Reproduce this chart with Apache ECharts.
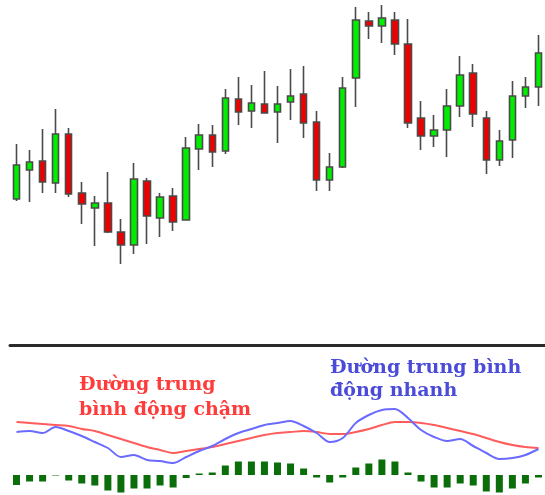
<!DOCTYPE html>
<html>
<head>
<meta charset="utf-8">
<script src="https://cdn.jsdelivr.net/npm/echarts@6/dist/echarts.min.js"></script>
<style>html,body{margin:0;padding:0;background:#fff;}#c{width:545px;height:495px;}</style>
</head>
<body>
<div id="c"></div>
<script>
// Candles: [open, close, low, high]
const candles = [
  [81,115,79,136],[110,118,78,130],[119,98,87,151],[97,146,87,171],[146,86,83,152],
  [87,76,56,98],[72,77,34,84],[77,48,47,108],[48,35,16,61],[35,101,26,117],
  [99,64,36,102],[62,83,43,87],[84,58,49,92],[60,132,60,143],[131,145,110,156],
  [145,128,113,155],[129,182,126,191],[181,168,155,203],[169,177,152,195],[176,167,167,209],
  [168,176,137,194],[178,184,160,211],[186,157,142,214],[158,100,89,169],[100,113,89,127],
  [113,192,112,203],[202,260,173,273],[259,254,241,268],[254,262,237,275],[260,236,225,268],
  [236,157,152,261],[162,144,130,179],[144,150,133,165],[150,174,123,191],[174,205,163,224],
  [207,166,153,216],[162,120,106,169],[120,139,114,150],[140,184,122,199],[184,193,172,203],
  [193,227,174,245]
];
const categories = candles.map((_, i) => String(i + 1));
// Slow moving average (red)
const slowMA = [53,52,51,50,49,46,44,40,36,32,28,25,22,24,26,28,31,34,37,40,
  42,43,44,43,41,41,43,46,50,53,53,52,50,47,44,41,37,33,30,28,27];
// Fast moving average (blue)
const fastMA = [43,44,42,48,44,39,33,27,18,20,15,14,12,18,24,29,36,42,46,50,
  52,54,49,42,33,37,52,60,65,66,57,45,38,34,36,29,22,16,17,20,26];
// Histogram (fast - slow)
const histogram = [-10,-6.5,-6.5,-0.5,-5.5,-8.5,-10.5,-15.5,-17.5,-13.5,-13.5,-10.5,-12.5,-3,1.5,2.5,9.5,13.5,13.5,13.5,
  12.5,11.5,6.5,-2.5,-7.5,-2.5,7.5,11.5,15.5,13.5,2.5,-6.5,-12.5,-12.5,-8.5,-10.5,-16.5,-17.5,-13.5,-8.5,-2.5];
const slowLabel = 'Đường trung\nbình động chậm';
const fastLabel = 'Đường trung bình\nđộng nhanh';

const chart = echarts.init(document.getElementById('c'));
chart.setOption({
  animation: false,
  backgroundColor: '#ffffff',
  grid: [
    {left: 10, right: 0, top: 0, height: 280},
    {left: 10, right: 0, top: 345, bottom: 0}
  ],
  xAxis: [
    {type: 'category', gridIndex: 0, data: categories, boundaryGap: true,
     axisLine: {show: false}, axisTick: {show: false}, axisLabel: {show: false}, splitLine: {show: false}},
    {type: 'category', gridIndex: 1, data: categories, boundaryGap: true, position: 'top',
     axisLine: {show: true, onZero: false, lineStyle: {color: '#2a2a2a', width: 3}}, axisTick: {show: false},
     axisLabel: {show: false}, splitLine: {show: false}}
  ],
  yAxis: [
    {type: 'value', gridIndex: 0, min: 0, max: 280, show: false, splitLine: {show: false}},
    {type: 'value', gridIndex: 1, min: -20, max: 130, show: false, splitLine: {show: false}}
  ],
  series: [
    {type: 'candlestick', xAxisIndex: 0, yAxisIndex: 0, data: candles, barWidth: 7,
     itemStyle: {color: '#00ee00', color0: '#ee0000', borderColor: '#4a4a4a', borderColor0: '#4a4a4a', borderWidth: 1.6}},
    {type: 'bar', xAxisIndex: 1, yAxisIndex: 1, data: histogram, barWidth: 7,
     itemStyle: {color: '#0b6e0b'}},
    {type: 'line', xAxisIndex: 1, yAxisIndex: 1, data: slowMA, symbol: 'none', smooth: 0.3,
     lineStyle: {color: '#ff5c5c', width: 2}},
    {type: 'line', xAxisIndex: 1, yAxisIndex: 1, data: fastMA, symbol: 'none', smooth: 0.3,
     lineStyle: {color: '#6a6aff', width: 2}}
  ],
  graphic: [
    {type: 'text', left: 79, top: 373, z: 10,
     style: {text: slowLabel, fill: '#ff3c3c', font: 'bold 19px "DejaVu Serif"', lineHeight: 25}},
    {type: 'text', left: 330, top: 357, z: 10,
     style: {text: fastLabel, fill: '#4b4bd9', font: 'bold 19px "DejaVu Serif"', lineHeight: 23}}
  ]
});
</script>
</body>
</html>
